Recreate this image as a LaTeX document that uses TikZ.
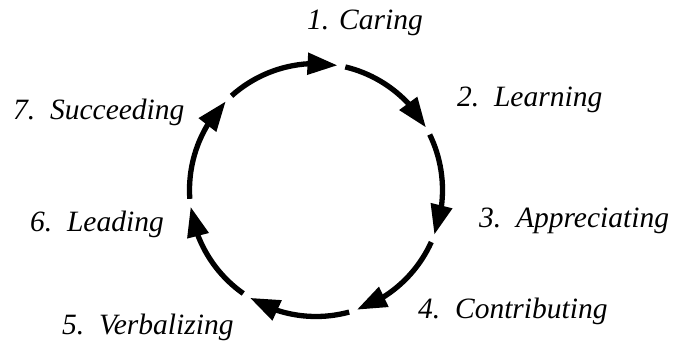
\documentclass[tikz,border=0pt]{standalone}
\usepackage{fontspec}
\setmainfont{Liberation Serif}
\usetikzlibrary{arrows.meta,bending}
\begin{document}
\begin{tikzpicture}[x=1pt,y=1pt,
  cyclearc/.style={line width=5.3pt, -{Triangle[length=30pt,width=21pt]}},
  stage/.style={anchor=base west, inner sep=0pt,
    font=\fontsize{29.5}{31}\selectfont\itshape}]
\useasboundingbox (0,0) rectangle (674,343);
% centre of the cycle
\coordinate (c) at (316,153);
\def\R{126.5}
% seven arcs, clockwise, each ending in an arrowhead at a small gap
\foreach \a/\b in {133.7/78.4, 78.4/27.8, 27.8/-22.5, -22.5/-73,
                   -73/-123.3, -123.3/-174.2, 185.8/133.7}{
  \pgfmathsetmacro\s{\a-1.8}
  \pgfmathsetmacro\e{\b+1.8}
  \draw[cyclearc] (c) ++(\s:\R) arc[start angle=\s, end angle=\e, radius=\R];
}
% stage labels
\node[stage] (s1) at (307,313) {1. Caring};
\node[stage] (s2) at (457,236) {2.\enspace Learning};
\node[stage] (s3) at (479,116) {3.\enspace Appreciating};
\node[stage] (s4) at (418,25)  {4.\enspace Contributing};
\node[stage] (s5) at (62,9)    {5.\enspace Verbalizing};
\node[stage] (s6) at (30,112)  {6.\enspace Leading};
\node[stage] (s7) at (13,223)  {7.\enspace Succeeding};
\end{tikzpicture}
\end{document}
